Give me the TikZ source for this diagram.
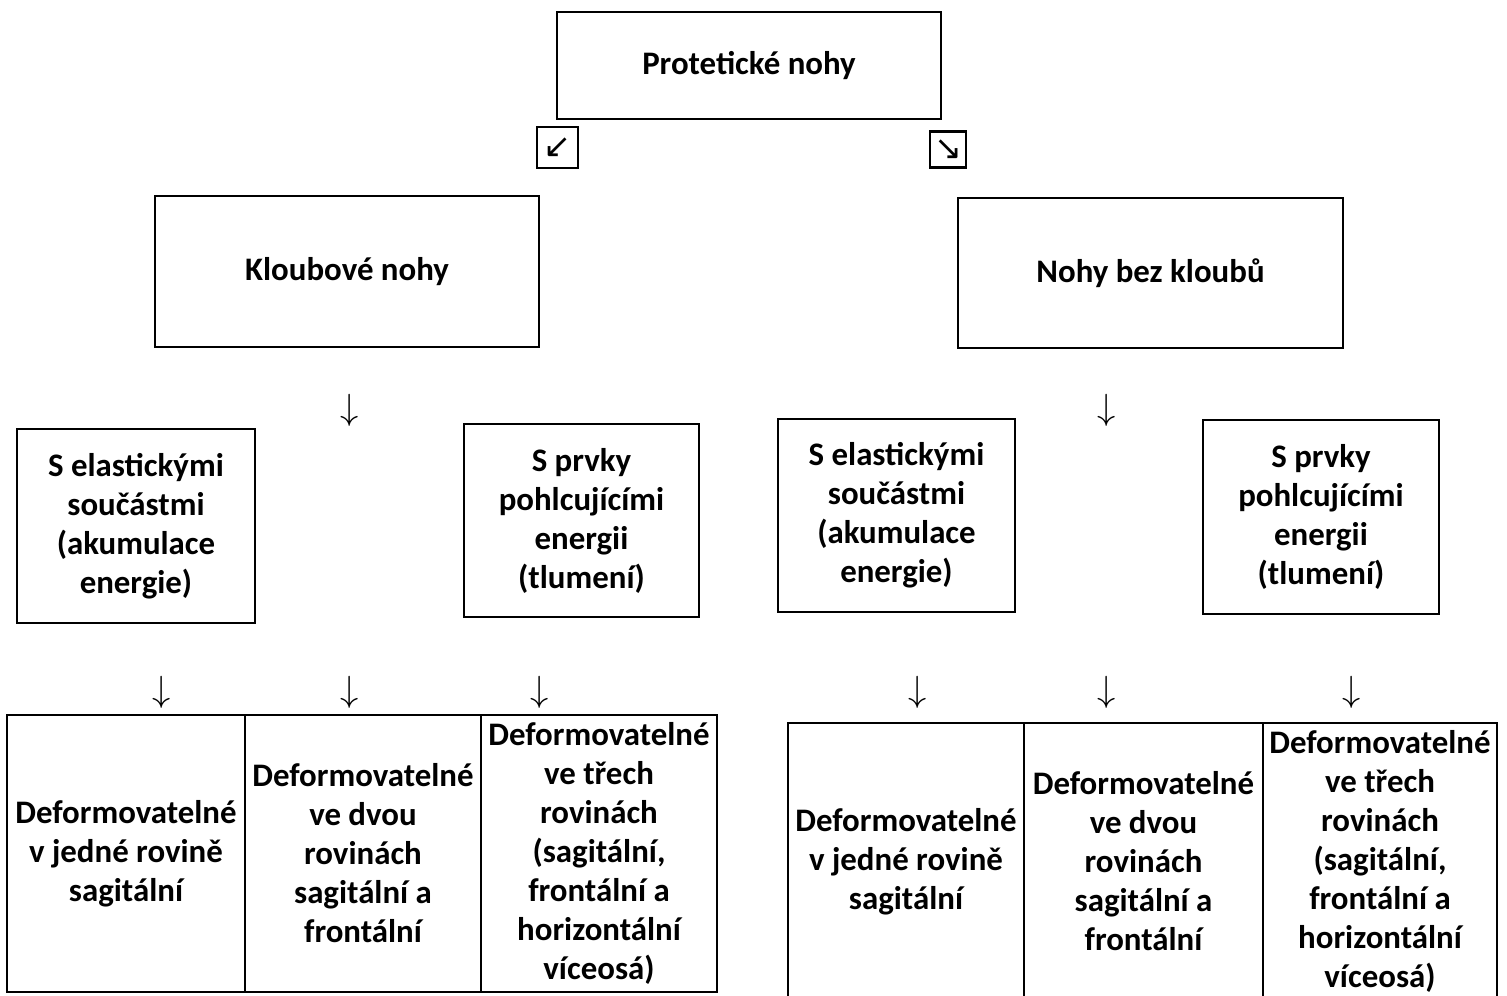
\documentclass[tikz,border=0pt]{standalone}
\usepackage{fontspec}
\setmainfont{Carlito}
\newfontfamily\arrowfont{DejaVu Sans}
\begin{document}
\begin{tikzpicture}[x=0.2mm, y=-0.2mm,
        box/.style={draw, line width=1.2pt, align=center, inner sep=0pt,
            font=\fontsize{18.7}{22.2}\selectfont\bfseries},
        sipka/.style={inner sep=0pt, font=\fontsize{22}{22}\selectfont},
        malasipka/.style={draw, line width=1.3pt, inner sep=0pt,
            font=\fontsize{19}{19}\selectfont\arrowfont}]
    \clip (0, 0) rectangle (1507, 995);
    \node[box, minimum width=76.8mm, minimum height=21.4mm] (prot) at (749, 65.5){Protetické nohy};
        \node[malasipka, minimum size=8.2mm] (sipkaL) at (557.5, 147.5){↙};
        \node[malasipka, minimum size=7.2mm] (sipkaR) at (948, 149.5){↘};
    \node[box, minimum width=76.8mm, minimum height=30.2mm] (kloub) at (347, 271.5){Kloubové nohy};
        \node[sipka] (dolkloub) at (350, 410){$\downarrow$};
        \node[box, minimum width=47.6mm, minimum height=38.8mm] (elastL) at (136, 526)
            {S elastickými\\ součástmi\\ (akumulace\\ energie)};
        \node[box, minimum width=47mm, minimum height=38.6mm] (prvkyL) at (581.5, 520.5)
            {S prvky\\ pohlcujícími\\ energii\\ (tlumení)};
        \node[sipka] (dolL1) at (162, 692){$\downarrow$};
        \node[sipka] (dolL2) at (350, 692){$\downarrow$};
        \node[sipka] (dolL3) at (540, 692){$\downarrow$};
        \node[box, minimum width=47.6mm, minimum height=55.4mm] (defL1) at (126, 853.5)
            {Deformovatelné\\ v jedné rovině\\ sagitální};
        \node[box, minimum width=47.2mm, minimum height=55.4mm] (defL2) at (363, 853.5)
            {Deformovatelné\\ ve dvou\\ rovinách\\ sagitální a\\ frontální};
        \node[box, minimum width=47.2mm, minimum height=55.4mm] (defL3) at (599, 853.5)
            {Deformovatelné\\ ve třech\\ rovinách\\ (sagitální,\\ frontální a\\ horizontální\\ víceosá)};
    \node[box, minimum width=77mm, minimum height=30mm] (bezkl) at (1150.5, 273){Nohy bez kloubů};
        \node[sipka] (dolbezkl) at (1107, 410){$\downarrow$};
        \node[box, minimum width=47.4mm, minimum height=38.6mm] (elastR) at (896.5, 515.5)
            {S elastickými\\ součástmi\\ (akumulace\\ energie)};
        \node[box, minimum width=47.2mm, minimum height=38.8mm] (prvkyR) at (1321, 517)
            {S prvky\\ pohlcujícími\\ energii\\ (tlumení)};
        \node[sipka] (dolR1) at (918, 692){$\downarrow$};
        \node[sipka] (dolR2) at (1107, 692){$\downarrow$};
        \node[sipka] (dolR3) at (1352, 692){$\downarrow$};
        \node[box, minimum width=47.2mm, minimum height=55.4mm] (defR1) at (906, 861.5)
            {Deformovatelné\\ v jedné rovině\\ sagitální};
        \node[box, minimum width=47.8mm, minimum height=55.4mm] (defR2) at (1143.5, 861.5)
            {Deformovatelné\\ ve dvou\\ rovinách\\ sagitální a\\ frontální};
        \node[box, minimum width=46.8mm, minimum height=55.4mm] (defR3) at (1380, 861.5)
            {Deformovatelné\\ ve třech\\ rovinách\\ (sagitální,\\ frontální a\\ horizontální\\ víceosá)};
\end{tikzpicture}
\end{document}
